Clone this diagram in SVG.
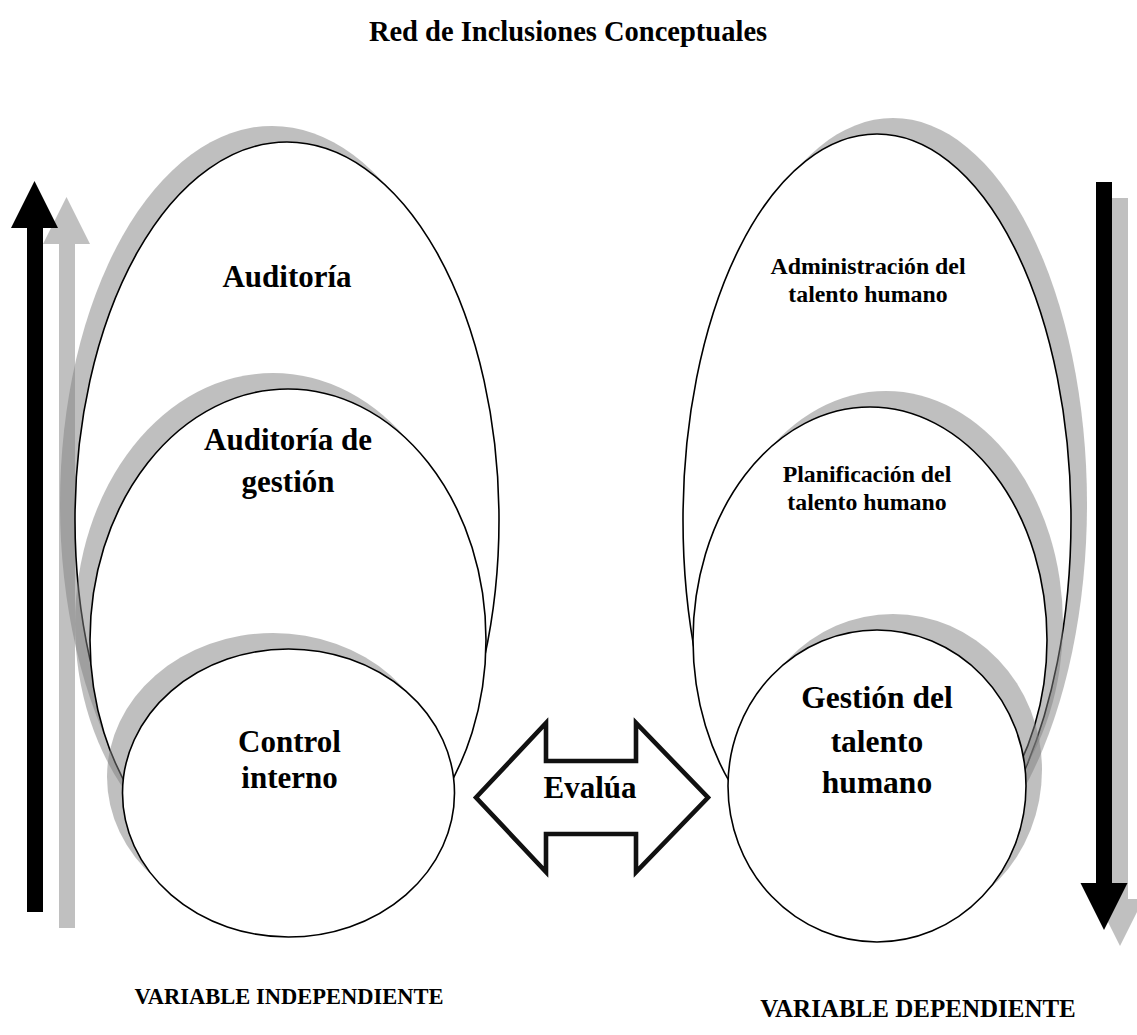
<svg xmlns="http://www.w3.org/2000/svg" width="1137" height="1035" viewBox="0 0 1137 1035">
<style>
.sh{fill:#808080;fill-opacity:0.5;stroke:none}
.el{fill:#fff;stroke:#000;stroke-width:1.6}
.t{font-family:"Liberation Serif","Times New Roman",serif;font-weight:bold;fill:#000;text-anchor:middle}
.ash{fill:#c0c0c0}
.ab{fill:#000}
</style>
<rect width="1137" height="1035" fill="#fff"/>
<text class="t" x="568" y="41" font-size="28.5">Red de Inclusiones Conceptuales</text>

<g id="connectors">
  <g id="arrow-left">
    <polygon class="ash" points="59,928 59,244 43,244 66.5,197 90,244 75,244 75,928"/>
    <polygon class="ab" points="27,912 27,228 11,228 34.5,181 58,228 43,228 43,912"/>
  </g>
  <g id="arrow-right">
    <polygon class="ash" points="1112,198 1128,198 1128,899 1143.5,899 1120,946 1096.5,899 1112,899"/>
    <polygon class="ab" points="1096,182 1112,182 1112,883 1127.5,883 1104,930 1080.5,883 1096,883"/>
  </g>
  <g id="evalua">
    <polygon points="476,797.5 546,723 546,761 636,761 636,723 708,797.5 636,872 636,834 546,834 546,872" fill="#fff" stroke="#111" stroke-width="4.6" stroke-linejoin="miter"/>
    <text class="t" x="590" y="798" font-size="31">Evalúa</text>
  </g>
</g>

<g id="auditoria">
  <ellipse class="sh" cx="272" cy="504" rx="212" ry="378"/>
  <ellipse class="el" cx="287" cy="520" rx="212" ry="378"/>
  <text class="t" x="287" y="287" font-size="31">Auditoría</text>
</g>
<g id="auditoria-gestion">
  <ellipse class="sh" cx="273" cy="624" rx="198" ry="251"/>
  <ellipse class="el" cx="288" cy="640" rx="198" ry="251"/>
  <text class="t" x="288" y="450" font-size="31">Auditoría de</text>
  <text class="t" x="288" y="492" font-size="31">gestión</text>
</g>
<g id="control-interno">
  <ellipse class="sh" cx="273" cy="777" rx="166" ry="144"/>
  <ellipse class="el" cx="288.5" cy="793" rx="166" ry="144"/>
  <text class="t" x="289.5" y="752" font-size="31">Control</text>
  <text class="t" x="289.5" y="788" font-size="31">interno</text>
</g>

<g id="administracion">
  <ellipse class="sh" cx="893" cy="504" rx="194" ry="386"/>
  <ellipse class="el" cx="877" cy="520" rx="194" ry="386"/>
  <text class="t" x="868" y="274" font-size="23.8">Administración del</text>
  <text class="t" x="868" y="302" font-size="23.8">talento humano</text>
</g>
<g id="planificacion">
  <ellipse class="sh" cx="886" cy="624" rx="177" ry="233"/>
  <ellipse class="el" cx="870" cy="640" rx="177" ry="233"/>
  <text class="t" x="867" y="482" font-size="23.8">Planificación del</text>
  <text class="t" x="867" y="510" font-size="23.8">talento humano</text>
</g>
<g id="gestion-talento">
  <ellipse class="sh" cx="893" cy="770" rx="149" ry="156"/>
  <ellipse class="el" cx="877" cy="786" rx="149" ry="156"/>
  <text class="t" x="877" y="708" font-size="31.5">Gestión del</text>
  <text class="t" x="877" y="752" font-size="31.5">talento</text>
  <text class="t" x="877" y="793" font-size="31.5">humano</text>
</g>

<text class="t" x="289" y="1004" font-size="22.5">VARIABLE INDEPENDIENTE</text>
<text class="t" x="918" y="1017" font-size="25">VARIABLE DEPENDIENTE</text>
</svg>
